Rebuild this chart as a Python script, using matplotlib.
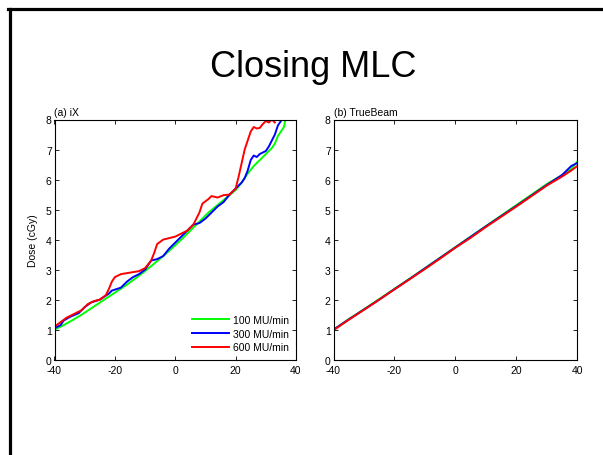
import numpy as np
import matplotlib.pyplot as plt
from matplotlib.lines import Line2D

plt.rcParams['font.family'] = ['Liberation Sans', 'DejaVu Sans']
plt.rcParams['axes.unicode_minus'] = False

# (a) iX - position (mm) vs dose (cGy)
ix_100_x = [-40, -37, -34, -31, -28, -25, -22, -19, -16, -13, -10, -7, -4, -1, 2, 5, 8, 11, 14, 17, 20,
            22, 24, 26, 28, 30, 31, 32, 33, 34, 35, 36, 36.5]
ix_100_y = [1.0, 1.15, 1.32, 1.5, 1.7, 1.9, 2.1, 2.3, 2.5, 2.72, 2.95, 3.2, 3.45, 3.72, 4.0, 4.3, 4.6, 4.9, 5.15, 5.4, 5.65,
            5.9, 6.2, 6.45, 6.65, 6.85, 6.95, 7.05, 7.2, 7.45, 7.6, 7.75, 8.0]

ix_300_x = [-40, -38, -37, -35, -32, -30, -28, -25, -22, -21, -18, -16, -14, -12, -10, -8, -6, -4, -2, 0,
            2, 4, 6, 8, 10, 12, 14, 16, 18, 20, 22, 23, 24, 25, 26, 27, 28, 29, 30, 31, 32, 33, 34, 35]
ix_300_y = [1.05, 1.15, 1.3, 1.42, 1.55, 1.75, 1.9, 2.0, 2.2, 2.3, 2.4, 2.6, 2.75, 2.85, 3.0, 3.3, 3.35, 3.45, 3.7, 3.9,
            4.1, 4.3, 4.5, 4.55, 4.7, 4.9, 5.1, 5.25, 5.5, 5.7, 5.9, 6.05, 6.3, 6.65, 6.8, 6.75, 6.85, 6.9, 6.95, 7.1,
            7.3, 7.5, 7.8, 7.95]

ix_600_x = [-40, -38, -36, -33, -31, -29, -27, -25, -23, -22, -21, -20, -18, -15, -12, -10, -8, -7, -6, -4, -2, 0,
            2, 4, 6, 8, 9, 11, 12, 14, 16, 18, 20, 21, 22, 23, 24, 25, 26, 27, 28, 29, 30, 31, 32, 33]
ix_600_y = [1.1, 1.25, 1.4, 1.55, 1.65, 1.85, 1.95, 2.0, 2.15, 2.35, 2.6, 2.75, 2.85, 2.9, 2.95, 3.05, 3.3, 3.55, 3.85,
            4.0, 4.05, 4.1, 4.2, 4.3, 4.5, 4.9, 5.2, 5.35, 5.45, 5.4, 5.48, 5.5, 5.7, 6.1, 6.55, 7.0, 7.3, 7.6, 7.75,
            7.7, 7.72, 7.85, 7.95, 7.9, 8.0, 7.9]

# (b) TrueBeam
tb_x = [-40, -35, -30, -25, -20, -15, -10, -5, 0, 5, 10, 15, 20, 25, 30, 35, 38, 40]
tb_100_y = [1.0, 1.35, 1.68, 2.02, 2.36, 2.7, 3.05, 3.4, 3.75, 4.1, 4.45, 4.8, 5.15, 5.5, 5.85, 6.15, 6.35, 6.6]
tb_300_y = [1.0, 1.34, 1.67, 2.0, 2.35, 2.69, 3.04, 3.39, 3.74, 4.09, 4.44, 4.78, 5.12, 5.47, 5.82, 6.15, 6.45, 6.55]
tb_600_y = [0.98, 1.33, 1.66, 2.0, 2.34, 2.68, 3.02, 3.37, 3.73, 4.06, 4.42, 4.76, 5.1, 5.45, 5.8, 6.1, 6.3, 6.45]

labels = ['100 MU/min', '300 MU/min', '600 MU/min']
colors = ['#00ff00', '#0000ff', '#ff0000']

fig = plt.figure(figsize=(6.03, 4.56), dpi=100)
W, H = 603, 456

# slide border
fig.add_artist(Line2D([9.5 / W, 9.5 / W], [0, 1 - 9.5 / H], color='black', lw=2.3, transform=fig.transFigure))
fig.add_artist(Line2D([8 / W, 1], [1 - 9.5 / H, 1 - 9.5 / H], color='black', lw=2.3, transform=fig.transFigure))

fig.text(313 / W, 1 - 77 / H, 'Closing MLC', fontsize=26, ha='center', va='baseline')

ax1 = fig.add_axes([54.5 / W, 1 - 360.7 / H, 241.5 / W, 240.2 / H])
ax2 = fig.add_axes([333.5 / W, 1 - 360.7 / H, 243.8 / W, 240.2 / H])

for x, y, c, lab in zip([ix_100_x, ix_300_x, ix_600_x], [ix_100_y, ix_300_y, ix_600_y], colors, labels):
    ax1.plot(x, y, color=c, lw=1.4, label=lab)
for y, c in zip([tb_100_y, tb_300_y, tb_600_y], colors):
    ax2.plot(tb_x, y, color=c, lw=1.4)

for ax, name in [(ax1, '(a) iX'), (ax2, '(b) TrueBeam')]:
    ax.set_xlim(-40, 40)
    ax.set_ylim(0, 8)
    ax.set_xticks([-40, -20, 0, 20, 40])
    ax.set_yticks(range(9))
    ax.tick_params(direction='in', length=3, width=0.6, labelsize=7.5, top=True, right=True)
    ax.tick_params(axis='x', pad=4)
    ax.tick_params(axis='y', pad=2)
    for s in ax.spines.values():
        s.set_linewidth(0.8)
    ax.text(0.0, 1.012, name, transform=ax.transAxes, fontsize=7.5, ha='left', va='bottom')

ax1.set_ylabel('Dose (cGy)', fontsize=7.5, labelpad=6)
ax1.legend(loc='lower right', frameon=False, fontsize=7.5, handlelength=3.6, handletextpad=0.35,
           labelspacing=0.35, borderaxespad=0.3, bbox_to_anchor=(1.0, 0.0))

fig.savefig('out.png', dpi=100)
